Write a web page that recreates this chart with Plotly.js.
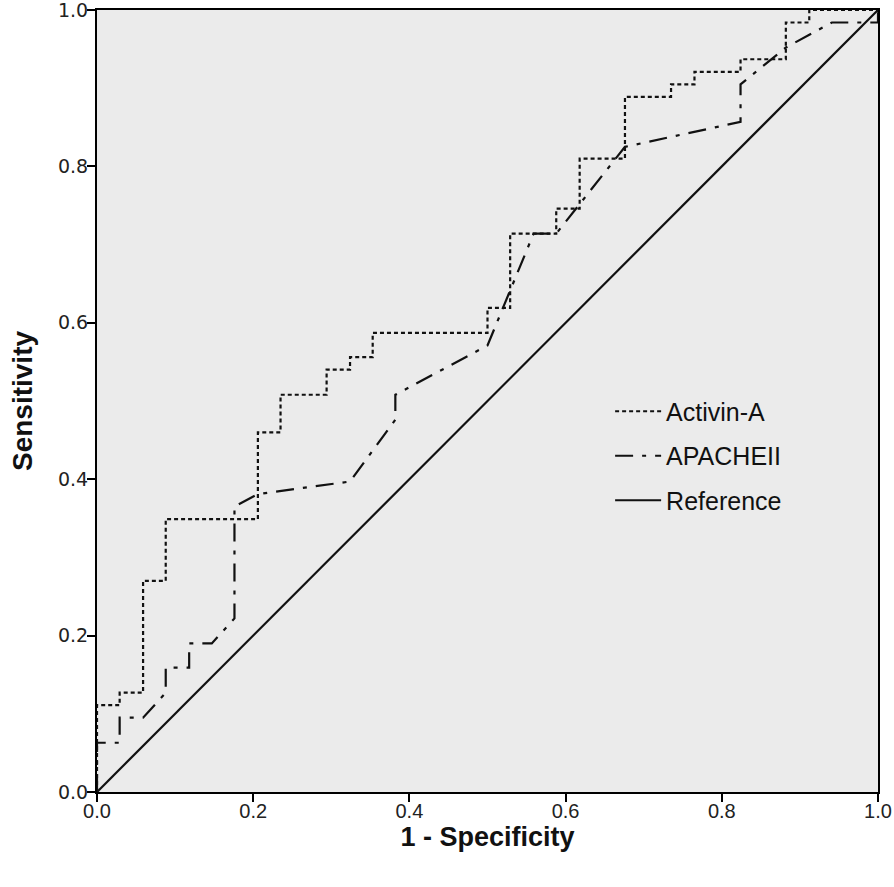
<!DOCTYPE html>
<html>
<head>
<meta charset="utf-8">
<script src="https://cdn.plot.ly/plotly-3.0.1.min.js"></script>
<style>html,body{margin:0;padding:0;background:#fff;}#chart{width:894px;height:887px;}</style>
</head>
<body>
<div id="chart"></div>
<script>
// ROC data
const activinFPR = [0, 0, 0.029, 0.059, 0.088, 0.206, 0.235, 0.294, 0.324, 0.353, 0.5, 0.529, 0.588, 0.618, 0.676, 0.735, 0.765, 0.824, 0.882, 0.912, 1];
const activinTPR = [0, 0.111, 0.127, 0.270, 0.349, 0.460, 0.508, 0.540, 0.556, 0.587, 0.619, 0.714, 0.746, 0.810, 0.889, 0.905, 0.921, 0.937, 0.984, 1, 1];

const apacheFPR = [0, 0, 0.029, 0.029, 0.059, 0.088, 0.088, 0.118, 0.118, 0.147, 0.176, 0.176, 0.206, 0.324, 0.382, 0.382, 0.5, 0.559, 0.588, 0.676, 0.824, 0.824, 0.882, 0.941, 1, 1];
const apacheTPR = [0, 0.063, 0.063, 0.095, 0.095, 0.127, 0.159, 0.159, 0.190, 0.190, 0.222, 0.365, 0.381, 0.397, 0.476, 0.508, 0.571, 0.714, 0.714, 0.825, 0.857, 0.905, 0.952, 0.984, 0.984, 1];

const refX = [0, 1];
const refY = [0, 1];

const seriesNames = ["Activin-A", "APACHEII", "Reference"];
const tickVals = [0, 0.2, 0.4, 0.6, 0.8, 1.0];
const tickText = ["0.0", "0.2", "0.4", "0.6", "0.8", "1.0"];

const traces = [
  {x: activinFPR, y: activinTPR, name: seriesNames[0], mode: "lines", legendgroup: "a",
   line: {color: "#111", width: 2.2, dash: "4px,3px", shape: "hv"}},
  {x: apacheFPR, y: apacheTPR, name: seriesNames[1], mode: "lines", legendgroup: "b",
   line: {color: "#111", width: 2.2, dash: "18px,9px,4px,9px"}},
  {x: refX, y: refY, name: seriesNames[2], mode: "lines", legendgroup: "c",
   line: {color: "#111", width: 2.2}}
];

const axisCommon = {
  range: [0, 1], autorange: false, showgrid: false, zeroline: false,
  showline: true, linecolor: "#000", linewidth: 2, mirror: true,
  ticks: "outside", ticklen: 8, tickwidth: 2, tickcolor: "#000",
  ticklabeloverflow: "allow",
  tickmode: "array", tickvals: tickVals, ticktext: tickText
};

const layout = {
  width: 894, height: 887,
  margin: {l: 97, r: 16, t: 10, b: 95, pad: 0},
  paper_bgcolor: "#fff", plot_bgcolor: "#ebebeb",
  showlegend: true,
  legend: {x: 0.657, y: 0.516, xanchor: "left", yanchor: "top",
           bgcolor: "rgba(0,0,0,0)", borderwidth: 0, tracegroupgap: 9,
           itemwidth: 46,
           font: {family: "Liberation Sans, Arial, sans-serif", size: 25, color: "#111"}},
  xaxis: Object.assign({}, axisCommon, {
    ticklabelstandoff: -8,
    tickfont: {family: "Liberation Sans, Arial, sans-serif", size: 20, color: "#222"},
    title: {text: "<b>1 - Specificity</b>", standoff: 6,
            font: {family: "Liberation Sans, Arial, sans-serif", size: 27, color: "#111"}}
  }),
  yaxis: Object.assign({}, axisCommon, {
    ticklabelstandoff: -5,
    tickfont: {family: "DejaVu Sans, sans-serif", size: 19, color: "#222"},
    title: {text: "<b>Sensitivity</b>", standoff: 17,
            font: {family: "Liberation Sans, Arial, sans-serif", size: 28, color: "#111"}}
  })
};

Plotly.newPlot("chart", traces, layout, {staticPlot: true, displayModeBar: false});
</script>
</body>
</html>
